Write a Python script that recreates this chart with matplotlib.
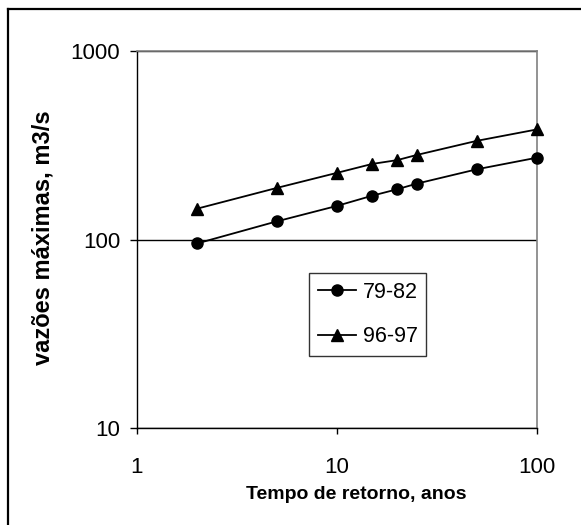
import matplotlib
matplotlib.use("Agg")
import matplotlib.pyplot as plt
from matplotlib.lines import Line2D
from matplotlib.ticker import FixedLocator, NullLocator

# return period (years) and peak flows (m3/s)
tempo_retorno = [2, 5, 10, 15, 20, 25, 50, 100]
vazao_79_82 = [95.5, 125, 151, 171, 185, 198, 236, 272]
vazao_96_97 = [146, 188, 226, 252, 264, 281, 334, 384]
series_labels = ["79-82", "96-97"]
x_ticks = [1, 10, 100]
y_ticks = [10, 100, 1000]

plt.rcParams["font.family"] = ["Liberation Sans", "DejaVu Sans"]

W, H = 581, 525
fig = plt.figure(figsize=(W / 100, H / 100), dpi=100)

# axes box in pixels: left 137, right 537, top 51, bottom 428
ax = fig.add_axes([137 / W, 1 - 428.3 / H, 400 / W, 377.3 / H])
ax.set_xscale("log")
ax.set_yscale("log")
ax.set_xlim(1, 100)
ax.set_ylim(10, 1000)

ax.plot(tempo_retorno, vazao_79_82, color="black", lw=1.3, marker="o",
        ms=8, label=series_labels[0], zorder=3, clip_on=False)
ax.plot(tempo_retorno, vazao_96_97, color="black", lw=1.3, marker="^",
        ms=8.5, label=series_labels[1], zorder=3, clip_on=False)

ax.xaxis.set_major_locator(FixedLocator(x_ticks))
ax.yaxis.set_major_locator(FixedLocator(y_ticks))
ax.xaxis.set_minor_locator(NullLocator())
ax.yaxis.set_minor_locator(NullLocator())
ax.set_xticklabels([str(t) for t in x_ticks])
ax.set_yticklabels([str(t) for t in y_ticks])
ax.tick_params(axis="x", direction="out", length=4, width=1, pad=17,
               labelsize=16)
ax.tick_params(axis="y", direction="out", length=5, width=1, pad=7,
               labelsize=16)

ax.grid(axis="y", which="major", color="black", lw=1, zorder=1)

for side in ("top", "right"):
    ax.spines[side].set_color("#808080")
    ax.spines[side].set_linewidth(1.2)
for side in ("left", "bottom"):
    ax.spines[side].set_color("black")
    ax.spines[side].set_linewidth(1)

ax.set_xlabel("Tempo de retorno, anos", fontsize=14, fontweight="bold")
ax.xaxis.set_label_coords((356 - 137) / 400, -0.152)
ax.set_ylabel("vazões máximas, m3/s", fontsize=17, fontweight="bold",
              va="center")
ax.yaxis.set_label_coords((43 - 137) / 400, (428.3 - 237.5) / 377.3)

leg = ax.legend(loc="upper left", bbox_to_anchor=(0.43, 0.4116),
                borderaxespad=0, fontsize=15.5, frameon=True, fancybox=False,
                shadow=False, handlelength=1.8, handletextpad=0.3,
                labelspacing=1.1, borderpad=0.4)
leg.get_frame().set_edgecolor("black")
leg.get_frame().set_linewidth(1)

# outer chart border (left and top edges visible, others cropped)
fig.add_artist(Line2D([7.5 / W, 7.5 / W], [0, 1 - 8.5 / H],
                      transform=fig.transFigure, color="black", lw=1.6))
fig.add_artist(Line2D([7.5 / W, 1], [1 - 8.5 / H, 1 - 8.5 / H],
                      transform=fig.transFigure, color="black", lw=1.6))

fig.savefig("out.png", dpi=100)
